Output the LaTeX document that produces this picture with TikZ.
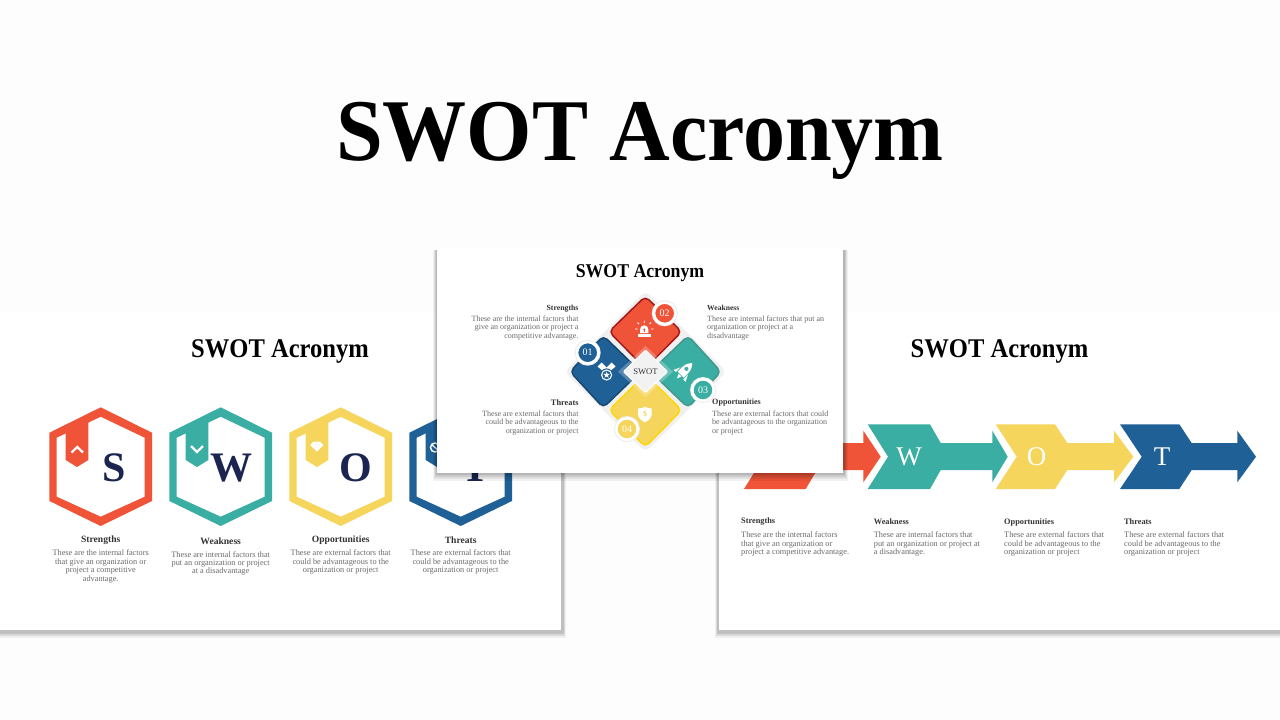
\documentclass[tikz,border=0pt]{standalone}
\usepackage{fontspec}
\setmainfont{Liberation Serif}
\definecolor{swotpage}{HTML}{FDFDFD}
\definecolor{swotred}{HTML}{EF5438}
\definecolor{swotteal}{HTML}{3AAEA2}
\definecolor{swotyellow}{HTML}{F6D55C}
\definecolor{swotblue}{HTML}{1F6097}
\definecolor{swotnavy}{HTML}{1B2550}
\definecolor{swothead}{HTML}{333333}
\definecolor{swotbody}{HTML}{6A6A6A}
\tikzset{
  slide/.style={fill=white},
  slideshadow/.style={fill=black, opacity=#1},
  hexring/.style={fill=#1, even odd rule},
  tick/.style={draw=white, line width=2.2pt, fill=none},
  title/.style={font=\bfseries\fontsize{#1}{#1}\selectfont, text=black, inner sep=0, anchor=base, transform shape},
  head/.style={font=\bfseries\fontsize{#1}{#1}\selectfont, text=swothead, inner sep=0},
  body/.style={font=\fontsize{#1}{8.4}\selectfont, text=swotbody, inner sep=0},
  bigletter/.style={font=\bfseries\fontsize{42}{42}\selectfont, text=swotnavy, inner sep=0, anchor=base},
  arrowletter/.style={font=\fontsize{27}{27}\selectfont, text=white, inner sep=0},
  petal/.style={fill=#1, rounded corners=5pt, line width=1.5pt, line join=round},
  numdisc/.style={circle, draw=white, line width=2.6pt, fill=#1, minimum size=21.4pt, inner sep=0, text=white, font=\fontsize{10}{10}\selectfont}
}
\begin{document}
\begin{tikzpicture}[x=1pt,y=-1pt]
\useasboundingbox (0,0) rectangle (1280,720);
\fill[swotpage] (0,0) rectangle (1280,720);
\node[title=88, xscale=.955] (maintitle) at (640,160) {SWOT Acronym};
% left slide
\fill[slideshadow=.05] (-5,316) rectangle (566,638);
\fill[slideshadow=.09] (-5,316) rectangle (565,636);
\fill[slideshadow=.12] (-5,316) rectangle (564,634);
\fill[slide] (0,313) rectangle (561,630);
\node[title=27, xscale=.91] (lefttitle) at (280,357) {SWOT Acronym};
\filldraw[hexring=swotred, draw=none] (100.7,407.3)--(152,432.7)--(152,501)--(100.7,526)--(49.4,501)--(49.4,432.7)--cycle (100.7,416.7)--(144.7,437.7)--(144.7,496.7)--(100.7,516.7)--(56.7,496.7)--(56.7,437.7)--cycle;
\filldraw[hexring=swotteal, draw=none] (220.7,407.3)--(272,432.7)--(272,501)--(220.7,526)--(169.4,501)--(169.4,432.7)--cycle (220.7,416.7)--(264.7,437.7)--(264.7,496.7)--(220.7,516.7)--(176.7,496.7)--(176.7,437.7)--cycle;
\filldraw[hexring=swotyellow, draw=none] (340.7,407.3)--(392,432.7)--(392,501)--(340.7,526)--(289.4,501)--(289.4,432.7)--cycle (340.7,416.7)--(384.7,437.7)--(384.7,496.7)--(340.7,516.7)--(296.7,496.7)--(296.7,437.7)--cycle;
\filldraw[hexring=swotblue, draw=none] (460.7,407.3)--(512,432.7)--(512,501)--(460.7,526)--(409.4,501)--(409.4,432.7)--cycle (460.7,416.7)--(504.7,437.7)--(504.7,496.7)--(460.7,516.7)--(416.7,496.7)--(416.7,437.7)--cycle;
\fill[swotred] (65.7,430)--(88.3,420)--(88.3,460)--(77,467)--(65.7,460)--cycle;
\fill[swotteal] (185.7,430)--(208.3,420)--(208.3,460)--(197,467)--(185.7,460)--cycle;
\fill[swotyellow] (305.7,430)--(328.3,420)--(328.3,460)--(317,467)--(305.7,460)--cycle;
\fill[swotblue] (425.7,430)--(448.3,420)--(448.3,460)--(437,467)--(425.7,460)--cycle;
\draw[tick] (71.5,452.5)--(77.3,447)--(83,452.5);
\draw[tick] (191,446)--(197,452)--(203,446);
\fill[white] (310,445)--(313.5,441.7)--(320,441.7)--(323.5,445)--(317,451.7)--cycle;
\draw[white, line width=1.4pt] (435,447.5) circle[radius=4.5];
\draw[white, line width=1.2pt] (431.5,444.5)--(438.5,450.5);
\node[bigletter] (letterS) at (114,481) {S};
\node[bigletter] (letterW) at (231,481) {W};
\node[bigletter] (letterO) at (356,481) {O};
\node[bigletter] (letterT) at (476,481) {T};
\node[head=9.6] (leftS) at (100.7,540) {Strengths};
\node[head=9.6] (leftW) at (220.7,541) {Weakness};
\node[head=9.6] (leftO) at (340.7,540) {Opportunities};
\node[head=9.6] (leftT) at (460.7,540) {Threats};
\node[body=8.3, align=center] (leftStext) at (100.7,566.5) {These are the internal factors\\that give an organization or\\project a competitive\\advantage.};
\node[body=8.3, align=center] (leftWtext) at (220.7,563.5) {These are internal factors that\\put an organization or project\\at a disadvantage};
\node[body=8.3, align=center] (leftOtext) at (340.7,562.2) {These are external factors that\\could be advantageous to the\\organization or project};
\node[body=8.3, align=center] (leftTtext) at (460.7,562.2) {These are external factors that\\could be advantageous to the\\organization or project};
% right slide
\fill[slideshadow=.05] (715,316) rectangle (1285,638);
\fill[slideshadow=.09] (716,316) rectangle (1285,636);
\fill[slideshadow=.12] (717,316) rectangle (1285,634);
\fill[slide] (719,313) rectangle (1285,630);
\node[title=27, xscale=.91] (righttitle) at (999.5,357) {SWOT Acronym};
\fill[swotred] (744,424.3)--(805.7,424.3)--(817,443)--(863.3,443)--(863.3,430.7)--(880.7,456.7)--(863.3,482.3)--(863.3,470)--(817,470)--(805.7,489)--(744,489)--(764,456.7)--cycle;
\fill[swotteal] (867.7,424.3)--(930,424.3)--(940.7,443)--(992.3,443)--(992.3,430.7)--(1007.7,456.7)--(992.3,482.3)--(992.3,470)--(940.7,470)--(930,489)--(867.7,489)--(888,456.7)--cycle;
\fill[swotyellow] (995.7,424.3)--(1055,424.3)--(1067.3,443)--(1114,443)--(1114,430.7)--(1133.3,456.7)--(1114,482.3)--(1114,470)--(1067.3,470)--(1055,489)--(995.7,489)--(1016.7,456.7)--cycle;
\fill[swotblue] (1120,424.3)--(1179.3,424.3)--(1191.7,443)--(1237.3,443)--(1237.3,430.7)--(1256,456.7)--(1237.3,482.3)--(1237.3,470)--(1191.7,470)--(1179.3,489)--(1120,489)--(1141.7,456.7)--cycle;
\node[arrowletter] (arrowW) at (909,457) {W};
\node[arrowletter] (arrowO) at (1036.5,457) {O};
\node[arrowletter] (arrowT) at (1162,457) {T};
\node[head=8.3, anchor=west] (rightS) at (741,522) {Strengths};
\node[head=8.3, anchor=west] (rightW) at (873.7,522) {Weakness};
\node[head=8.3, anchor=west] (rightO) at (1004,522) {Opportunities};
\node[head=8.3, anchor=west] (rightT) at (1124,522) {Threats};
\node[body=8.3, align=left, anchor=west] (rightStext) at (741,544) {These are the internal factors\\that give an organization or\\project a competitive advantage.};
\node[body=8.3, align=left, anchor=west] (rightWtext) at (873.7,544) {These are internal factors that\\put an organization or project at\\a disadvantage.};
\node[body=8.3, align=left, anchor=west] (rightOtext) at (1004,544) {These are external factors that\\could be advantageous to the\\organization or project};
\node[body=8.3, align=left, anchor=west] (rightTtext) at (1124,544) {These are external factors that\\could be advantageous to the\\organization or project};
% middle slide
\fill[slideshadow=.05] (433,250) rectangle (848,481);
\fill[slideshadow=.07] (434,250) rectangle (847,479);
\fill[slideshadow=.09] (435,250) rectangle (846,477);
\fill[slideshadow=.1] (436,250) rectangle (845,475);
\fill[slide] (437,247) rectangle (843,473);
\node[title=19.5, xscale=.91] (midtitle) at (640,277.3) {SWOT Acronym};
\fill[black!6, rounded corners=6pt] (645.5,291)--(726.5,371.7)--(645.5,452)--(564.5,371.7)--cycle;
\filldraw[petal=swotblue, draw=swotblue!75!black] (603.3,335.7)--(640.5,371.7)--(603.3,407.7)--(570,371.7)--cycle;
\filldraw[petal=swotteal, draw=swotteal!80!black!90] (688,335.7)--(721,371.7)--(688,407.7)--(650.5,371.7)--cycle;
\filldraw[petal=swotred, draw=red!60!black!90] (645.3,296.3)--(681.7,331.7)--(645.3,368.5)--(609,331.7)--cycle;
\filldraw[petal=swotyellow, draw=yellow!75!orange] (645.3,374.5)--(681.7,410)--(645.3,447)--(609,410)--cycle;
\fill[white, opacity=.25] (645.5,346)--(673,371.7)--(645.5,397)--(618,371.7)--cycle;
\filldraw[fill=black!5, draw=white, line width=.8pt, rounded corners=1pt] (645.5,350)--(667.7,371.7)--(645.5,392.7)--(623.3,371.7)--cycle;
\node[font=\fontsize{8.6}{8.6}\selectfont, text=swothead, inner sep=0] (centerlabel) at (645.5,371.7) {SWOT};
\fill[black!7] (587.7,352.7) circle[radius=13];
\fill[black!7] (664.7,313.3) circle[radius=13];
\fill[black!7] (703,390) circle[radius=13];
\fill[black!7] (627,429) circle[radius=13];
\node[numdisc=swotblue] (disc1) at (587.7,352.7) {01};
\node[numdisc=swotred] (disc2) at (664.7,313.3) {02};
\node[numdisc=swotteal] (disc3) at (703,390) {03};
\node[numdisc=swotyellow] (disc4) at (627,429) {04};
% alarm icon
\fill[white] (640,333)--(640,329.5) arc[start angle=180, end angle=360, radius=4.2]--(648.4,333)--cycle;
\fill[white] (637.7,333.5) rectangle (650.5,336.5);
\draw[white, line width=.8pt] (644.2,320.5)--(644.2,323) (637.5,322.5)--(639,324) (651,322.5)--(649.5,324) (635,329)--(637.5,329) (651,329)--(653.5,329);
\fill[swotred] (644.2,329.5) circle[radius=1.2];
\fill[swotred] (643.7,329.5) rectangle (644.7,332);
% medal icon
\fill[white] (597.5,366.5)--(601.5,362.5)--(608.5,369.5)--(604.5,372.5)--cycle;
\fill[white] (615.5,366.5)--(611.5,362.5)--(604.5,369.5)--(608.5,372.5)--cycle;
\begin{scope}[shift={(606.6,375)}]
\fill[swotblue] (0,0) circle[radius=6.6];
\fill[white] (0,0) circle[radius=5.6];
\fill[swotblue] (0,0) circle[radius=4.3];
\fill[white] (-90:3.4)--(-54:1.4)--(-18:3.4)--(18:1.4)--(54:3.4)--(90:1.4)--(126:3.4)--(162:1.4)--(198:3.4)--(234:1.4)--cycle;
\end{scope}
% rocket icon
\begin{scope}[shift={(684.3,371)}, rotate=-45]
\fill[white] (-4.2,5)--(-4.2,-2) .. controls (-4.2,-6.5) and (-1.2,-10) .. (0,-11) .. controls (1.2,-10) and (4.2,-6.5) .. (4.2,-2)--(4.2,5)--cycle;
\fill[white] (-5.2,0)--(-8.5,7)--(-5.2,6.5)--cycle;
\fill[white] (5.2,0)--(8.5,7)--(5.2,6.5)--cycle;
\fill[white] (-2,6)--(2,6)--(0,10.5)--cycle;
\fill[swotteal] (0,-3) circle[radius=2];
\end{scope}
% shield icon
\fill[white] (638,408.5) .. controls (641,408.5) and (643.5,407.8) .. (645,406.7) .. controls (646.5,407.8) and (649,408.5) .. (651.7,408.5)--(651.7,414) .. controls (651.7,418) and (648.5,420.8) .. (645,422.3) .. controls (641.5,420.8) and (638,418) .. (638,414)--cycle;
\node[font=\bfseries\fontsize{8}{8}\selectfont, text=swotyellow, inner sep=0] (shieldmark) at (645,414.3) {\$};
% middle slide texts
\node[head=7.8, anchor=east] (midS) at (578.7,308.3) {Strengths};
\node[head=7.6, anchor=west] (midW) at (707,308) {Weakness};
\node[head=8.3, anchor=east] (midT) at (578.7,402.7) {Threats};
\node[head=8.1, anchor=west] (midO) at (712,403) {Opportunities};
\node[body=8, align=right, anchor=east] (midStext) at (578.7,328) {These are the internal factors that\\give an organization or project a\\competitive advantage.};
\node[body=8, align=left, anchor=west] (midWtext) at (707,328) {These are internal factors that put an\\organization or project at a\\disadvantage};
\node[body=8, align=right, anchor=east] (midTtext) at (578.7,422.7) {These are external factors that\\could be advantageous to the\\organization or project};
\node[body=8, align=left, anchor=west] (midOtext) at (712,422.7) {These are external factors that could\\be advantageous to the organization\\or project};
\end{tikzpicture}
\end{document}
